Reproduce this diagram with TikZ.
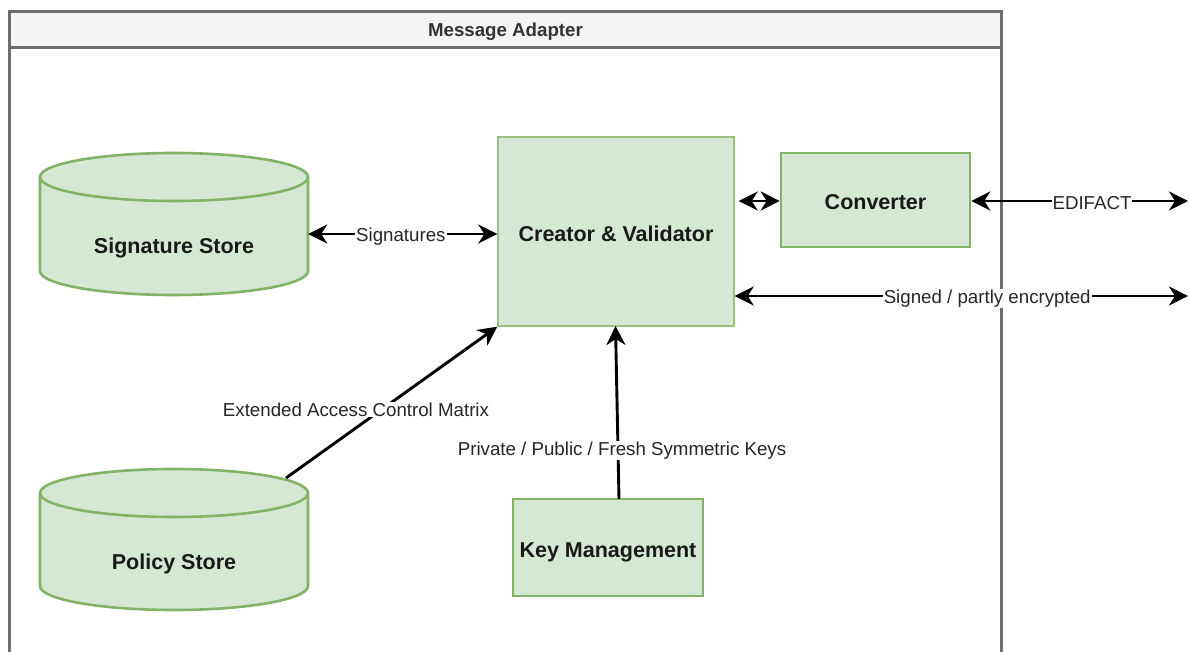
\documentclass[tikz,border=0pt]{standalone}
\usepackage{fontspec}
\setmainfont{Liberation Sans}
\usetikzlibrary{arrows.meta,calc}
\definecolor{gfill}{HTML}{D5E8D4}
\definecolor{gline}{HTML}{82B366}
\definecolor{gthin}{HTML}{97C07F}
\definecolor{hfill}{HTML}{F5F5F5}
\definecolor{hline}{HTML}{6E6E6E}
\definecolor{htext}{HTML}{333333}
\tikzset{
  greenbox/.style={draw=gline, line width=2.6pt, fill=gfill, inner sep=0pt, text height=19.5pt, text depth=0.3pt, font=\fontsize{21.5}{24}\bfseries\selectfont, text=black!90},
  thinbox/.style={greenbox, draw=gthin, line width=1.4pt},
  cylbody/.style={draw=gline, line width=2.6pt, fill=gfill},
  cyltext/.style={font=\fontsize{21.5}{24}\bfseries\selectfont, text=black!90, inner sep=0pt},
  conn/.style={line width=2.9pt, black},
  tipboth/.style={conn, {Stealth[length=19pt,width=19pt,inset=6pt]}-{Stealth[length=19pt,width=19pt,inset=6pt]}},
  tipend/.style={conn, -{Stealth[length=19pt,width=19pt,inset=6pt]}},
  lbl/.style={fill=white, inner sep=1pt, font=\fontsize{18.7}{21}\selectfont, text=black!85},
  ghost/.style={draw=none, inner sep=0pt}
}
\begin{document}
\begin{tikzpicture}[x=1pt,y=-1pt]
\useasboundingbox (0,0) rectangle (1189,652);
% container
\fill[white] (9.5,11.5) rectangle (1001.5,660);
\draw[hline, line width=2.8pt] (9.5,660) -- (9.5,11.5) -- (1001.5,11.5) -- (1001.5,660);
\draw[hline, line width=2.8pt, fill=hfill] (9.5,11.5) rectangle (1001.5,47.5);
\node[ghost, font=\fontsize{18.7}{21}\bfseries\selectfont, text=htext] (title) at (505.5,32) {Message Adapter};

% signature store cylinder
\path[cylbody] (40,177) -- (40,271) arc[start angle=180,end angle=360,x radius=134pt,y radius=24pt]
  -- (308,177) arc[start angle=0,end angle=180,x radius=134pt,y radius=24pt] -- cycle;
\draw[gline, line width=2.6pt] (40,177) arc[start angle=180,end angle=360,x radius=134pt,y radius=24pt];
\node[ghost, minimum width=268pt, minimum height=142pt] (sig) at (174,224) {};
\node[cyltext] (sigtext) at (174,247.5) {Signature Store};

% policy store cylinder
\path[cylbody] (40,493) -- (40,586) arc[start angle=180,end angle=360,x radius=134pt,y radius=24pt]
  -- (308,493) arc[start angle=0,end angle=180,x radius=134pt,y radius=24pt] -- cycle;
\draw[gline, line width=2.6pt] (40,493) arc[start angle=180,end angle=360,x radius=134pt,y radius=24pt];
\node[ghost, minimum width=268pt, minimum height=141pt] (pol) at (174,539.5) {};
\node[cyltext] (poltext) at (174,563.5) {Policy Store};

% boxes
\node[thinbox, minimum width=236pt, minimum height=189pt] (cv) at (616,231.5) {Creator \& Validator};
\node[greenbox, minimum width=189pt, minimum height=94pt] (conv) at (875.5,200) {Converter};
\node[greenbox, minimum width=190pt, minimum height=97pt] (key) at (608,547.5) {Key Management};

% free ends and start points
\coordinate (edi) at (1188,201);
\coordinate (sgn) at (1188,296);
\coordinate (polt) at (286,478);
\coordinate (keyt) at (619,499);
\coordinate (cvb) at (615.5,326);

% connectors
\draw[tipboth] (sig.east |- 0,234) -- (cv.west |- 0,234) node[lbl, pos=0.49, yshift=-2.5pt] {Signatures};
\draw[tipboth, shorten <=4pt] (cv.east |- 0,201) -- (conv.west |- 0,201);
\draw[tipboth] (conv.east |- 0,201) -- (edi) node[lbl, pos=0.557, yshift=-2.5pt] {EDIFACT};
\draw[tipboth] (cv.east |- 0,296) -- (sgn) node[lbl, pos=0.557, yshift=-2.5pt] {Signed / partly encrypted};
\draw[tipend] (polt) -- (cv.south west);
\node[lbl] (eacm) at (356,409.5) {Extended Access Control Matrix};
\draw[tipend] (keyt) -- (cvb);
\node[lbl] (pkeys) at (622,450.5) {Private / Public / Fresh Symmetric Keys};
\end{tikzpicture}
\end{document}
